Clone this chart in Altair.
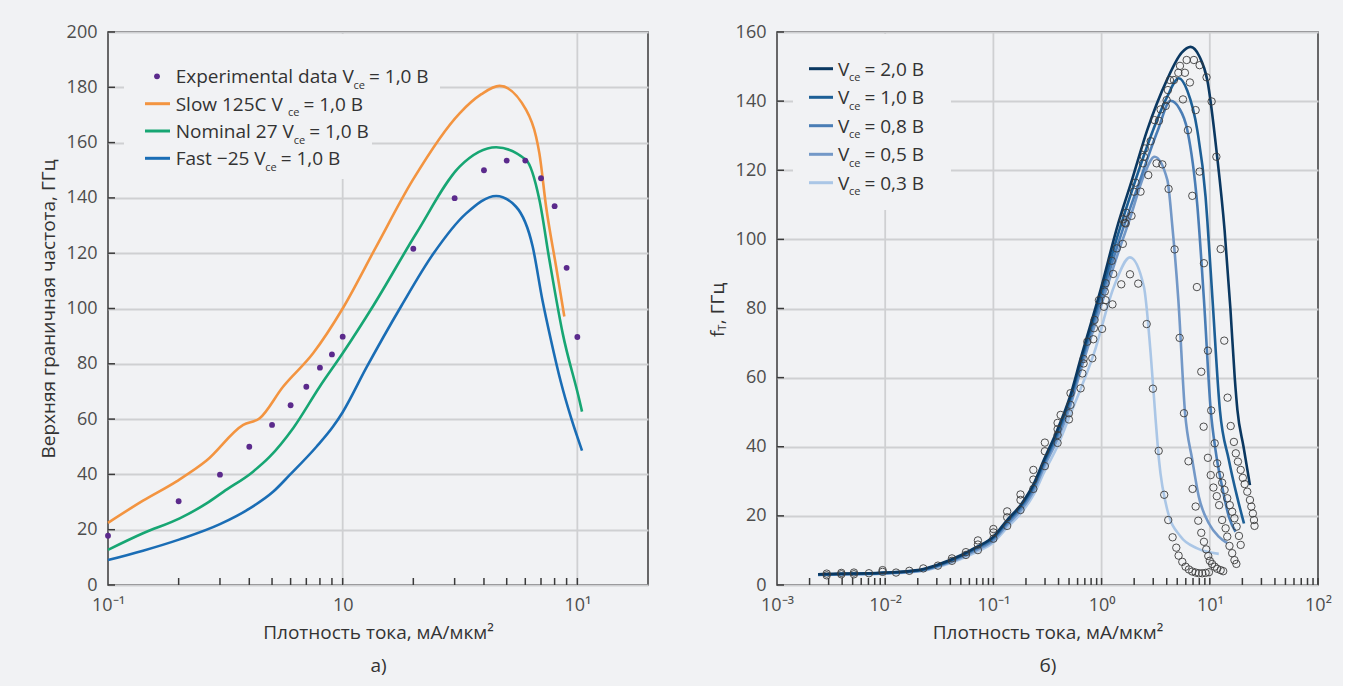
import altair as alt
import pandas as pd

FONT = "Open Sans"
BG = "#f1f2f4"
GRID = "#cfd0d2"
FRAME = "#3a3a3a"
TXT = "#333333"
LBL = "#4d4d4d"

# ---------------- panel a) data ----------------
a_exp_x = [0.1, 0.2, 0.3, 0.4, 0.5, 0.6, 0.7, 0.8, 0.9, 1.0, 2, 3, 4, 5, 6, 7, 8, 9, 10]
a_exp_y = [17.8, 30.3, 39.9, 50.0, 57.9, 65.0, 71.7, 78.6, 83.4, 89.8, 121.6, 139.9, 150.0,
           153.5, 153.5, 147.1, 137.0, 114.7, 89.7]

slow_x = [0.1, 0.141, 0.196, 0.263, 0.377, 0.443, 0.557, 0.748, 1.0, 1.39, 1.99, 3.15, 3.9,
          4.66, 6.05, 6.67, 6.89, 7.36, 8.12, 8.8]
slow_y = [22.5, 30.5, 37.5, 45.0, 57.9, 60.3, 71.7, 83.8, 100.0, 122.4, 146.5, 170.6, 177.5,
          180.5, 171.8, 162.1, 156.1, 136.8, 115.1, 97.1]

nom_x = [0.1, 0.141, 0.202, 0.263, 0.31, 0.415, 0.489, 0.615, 0.798, 1.0, 1.35, 2.06, 3.15,
         4.51, 6.05, 6.89, 7.6, 8.66, 10.2, 10.47]
nom_y = [12.7, 18.7, 24.1, 29.5, 33.7, 41.0, 46.4, 56.7, 71.7, 83.8, 101.0, 127.2, 151.3,
         158.3, 153.7, 139.3, 117.6, 91.0, 66.9, 62.7]

fast_x = [0.1, 0.141, 0.202, 0.3, 0.402, 0.505, 0.595, 0.773, 0.91, 1.0, 1.26, 1.78, 2.42,
          3.36, 4.51, 5.48, 6.45, 7.1, 7.7, 8.5, 9.4, 10.47]
fast_y = [9.0, 12.4, 16.5, 22.0, 27.7, 33.7, 39.8, 50.0, 57.3, 62.5, 78.5, 101.0, 119.5,
          134.4, 140.7, 136.8, 122.4, 103.0, 89.0, 73.5, 60.5, 48.6]

a_series = ["Slow 125C", "Nominal 27", "Fast -25"]
a_colors = ["#f39440", "#17a673", "#1a6db5"]
a_points_color = "#5b2a8c"

# ---------------- panel б) data ----------------
common_x = [0.0024, 0.004, 0.007, 0.01, 0.02, 0.03, 0.05, 0.07, 0.1, 0.134, 0.178, 0.237,
            0.293, 0.389, 0.516]

v20_x = common_x + [0.64, 0.98, 1.42, 1.9, 2.64, 4.0, 5.5, 6.65, 8.0, 9.48, 11.7, 13.7, 15.5,
                    17.0, 18.0, 20.5, 23.5]
v20_y = [3.1, 3.3, 3.4, 3.6, 4.3, 5.8, 8.6, 11.0, 14.0, 18.8, 23.1, 29.4, 36.2, 44.8, 55.0,
         65.5, 85.5, 104.5, 117.0, 131.6, 146.0, 154.0, 155.7, 153.0, 146.1, 123.9, 102.7, 80.0,
         60.0, 50.6, 40.0, 28.9]

v10_x = common_x + [0.64, 0.98, 1.42, 2.0, 2.94, 4.0, 5.18, 6.2, 7.66, 9.14, 9.48, 10.6, 12.4,
                    15.0, 17.9, 20.7]
v10_y = [3.0, 3.2, 3.3, 3.5, 4.2, 5.6, 8.4, 10.8, 13.7, 18.4, 22.7, 28.9, 35.6, 44.0, 54.3,
         64.5, 84.0, 101.5, 116.0, 131.0, 141.0, 146.6, 143.0, 131.6, 112.3, 105.6, 82.5, 50.6,
         36.2, 25.5, 17.8]

v08_x = common_x + [0.64, 0.98, 1.5, 2.2, 3.31, 4.34, 5.2, 6.2, 7.66, 8.83, 10.2, 11.3, 13.0,
                    15.0, 17.3]
v08_y = [3.0, 3.2, 3.3, 3.5, 4.1, 5.5, 8.2, 10.5, 13.4, 18.0, 22.2, 28.3, 35.0, 43.2, 53.3,
         63.5, 82.5, 101.0, 116.0, 131.6, 140.1, 138.0, 131.6, 110.0, 82.5, 50.6, 39.0, 28.4,
         19.8, 15.4]

v05_x = common_x + [0.64, 0.98, 1.35, 1.85, 2.46, 3.09, 4.05, 4.5, 5.12, 5.9, 6.89, 7.92, 9.82,
                    12.1, 14.5]
v05_y = [2.9, 3.1, 3.2, 3.4, 4.0, 5.3, 7.9, 10.1, 12.9, 17.4, 21.5, 27.4, 34.0, 42.0, 52.0,
         62.0, 80.5, 94.0, 106.5, 118.5, 123.9, 117.2, 104.0, 82.5, 50.0, 36.2, 25.5, 17.8,
         14.0, 12.1]

v03_x = common_x + [0.85, 1.3, 1.83, 2.46, 2.84, 3.16, 3.39, 4.05, 5.37, 7.66, 12.1]
v03_y = [2.9, 3.0, 3.1, 3.3, 3.9, 5.1, 7.5, 9.6, 12.3, 16.6, 20.6, 26.3, 32.5, 40.0, 49.5,
         67.0, 86.3, 94.8, 86.3, 67.0, 47.7, 36.2, 21.7, 14.0, 10.6, 9.0]

b_series = ["2,0", "1,0", "0,8", "0,5", "0,3"]
b_colors = ["#0b3861", "#1d5f96", "#4a7db5", "#7398c7", "#aac6e6"]

b_exp_x = [0.00288, 0.00288, 0.00393, 0.00393, 0.00514, 0.00514, 0.00708, 0.00946, 0.00946,
           0.0126, 0.0167, 0.0225, 0.0307, 0.0414, 0.0414, 0.0557, 0.0557, 0.0719, 0.0719,
           0.0719, 0.1, 0.1, 0.1, 0.134, 0.134, 0.134, 0.178, 0.178, 0.178, 0.234, 0.234, 0.234,
           0.299, 0.299, 0.299, 0.392, 0.392, 0.392, 0.392, 0.499, 0.499, 0.516, 0.516, 0.418,
           0.64, 0.664, 0.682, 0.682, 0.82, 0.738, 0.838, 0.849, 1.01, 0.861, 0.944, 1.05, 1.26,
           1.09, 1.07, 1.09, 1.52, 1.28, 1.83, 2.18, 1.24, 1.38, 1.57, 1.67,
           2.61, 2.98, 4.73, 5.26, 5.77, 7.6, 8.83, 9.61, 8.34, 10.3, 12.6, 13.6, 14.6,
           1.64, 1.58, 1.69, 1.89, 1.99, 2.06, 2.29, 2.7, 2.41, 2.46, 2.51, 3.22, 3.64, 2.84,
           4.16, 6.89, 8.05, 3.09, 3.39, 3.51, 3.91, 3.99, 5.65, 6.28, 7.4, 10.4, 11.5, 4.1,
           4.28, 4.66, 5.12, 5.89, 6.55, 5.3, 6.11, 7.13, 8.05, 9.33,
           3.37, 3.79, 4.13, 4.53, 4.9, 5.15, 5.57, 5.97, 6.41, 6.89, 7.4, 7.92, 8.51, 9.14, 9.82,
           6.35, 6.93, 7.4, 7.82, 8.34, 8.83, 9.27, 9.68, 10.0, 10.5, 11.1, 11.7, 12.6, 13.3,
           8.77, 9.61, 10.2, 10.8, 11.6, 12.2, 13.0, 14.0, 14.5, 15.2, 16.1, 16.9, 17.6,
           11.1, 11.7, 12.4, 13.0, 13.7, 14.5, 15.3, 16.1, 16.9, 17.7, 18.6, 19.3,
           15.6, 16.7, 17.4, 18.2, 19.3, 20.2, 21.0, 22.2, 23.5, 24.2, 25.0, 25.6, 25.9]
b_exp_y = [2.8, 3.3, 3.1, 3.5, 3.1, 3.6, 3.4, 3.8, 4.3,
           3.6, 4.1, 4.8, 5.6, 7.0, 7.7, 8.7, 9.5, 10.1, 11.7,
           12.9, 13.4, 15.2, 16.2, 17.1, 19.6, 21.3, 21.7, 24.6, 26.2, 27.8, 30.5, 33.3,
           34.4, 38.7, 41.2, 41.1, 43.4, 45.1, 46.9, 47.9, 49.7, 52.1, 55.5, 49.2,
           56.9, 61.2, 64.1, 65.4, 65.6, 70.4, 71.1, 74.3, 74.1, 76.7, 82.4, 80.5, 81.2,
           82.4, 84.9, 87.3, 87.0, 90.0, 89.9, 87.2, 93.8, 97.4, 98.7, 104.6,
           75.5, 56.8, 97.1, 71.5, 49.7, 86.2, 93.1, 67.8, 61.7, 50.5, 97.2, 70.7, 54.2,
           104.8, 105.8, 107.7, 106.8, 113.8, 116.4, 113.8, 118.6, 122.0, 123.9, 126.3, 122.0,
           121.7, 128.4, 114.6, 112.6, 119.6, 134.5, 134.3, 137.6, 138.6, 140.3, 140.5, 131.6,
           137.4, 139.9, 123.9, 143.2, 146.1, 146.1, 148.2, 148.2, 145.4, 150.2, 151.9, 151.9,
           150.4, 146.9,
           38.8, 26.1, 18.8, 13.8, 10.8, 8.5, 6.7, 5.3, 4.5, 3.9, 3.6, 3.4, 3.4, 3.5, 3.7,
           35.8, 27.8, 22.7, 18.6, 15.1, 12.5, 10.3, 8.4, 7.0, 6.1, 5.3, 4.7, 4.3, 4.0,
           45.8, 36.8, 31.8, 28.2, 25.7, 23.1, 18.8, 16.4, 14.0, 11.3, 9.2, 7.2, 6.1,
           41.0, 35.2, 31.8, 29.6, 27.5, 25.1, 23.1, 21.2, 19.3, 16.9, 14.2, 11.6,
           46.0, 41.4, 38.1, 35.7, 33.3, 31.0, 29.2, 27.0, 24.6, 22.7, 20.7, 18.8, 17.1]

# tick positions
a_ticks_x = [0.2, 0.3, 0.4, 0.5, 0.6, 0.7, 0.8, 0.9, 1, 2, 3, 4, 5, 6, 7, 8, 9, 10]
b_ticks_x = [m * 10.0 ** e for e in range(-3, 2) for m in range(2, 11)]
a_ticks_y = list(range(0, 201, 20))
b_ticks_y = list(range(0, 161, 20))

W_A, W_B, H = 540, 541, 553
ONE = pd.DataFrame({"k": [0]})

CW = {' ': 0.26, 'E': 0.55, 'x': 0.52, 'p': 0.61, 'e': 0.56, 'r': 0.41, 'i': 0.26, 'm': 0.93,
      'n': 0.61, 't': 0.35, 'a': 0.56, 'l': 0.26, 'd': 0.61, 'V': 0.58, 'S': 0.54, 'o': 0.60,
      'w': 0.82, 'C': 0.62, 'N': 0.75, 'F': 0.52, 's': 0.47, 'c': 0.48, ',': 0.25, '=': 0.57,
      'B': 0.63, 'f': 0.33, 'T': 0.55}


def tw(s, size):
    return sum(CW.get(c, 0.57) for c in s) * size


def text_mark(s, x, y, size=19, angle=None, baseline="alphabetic"):
    kw = dict(text=s, font=FONT, fontSize=size, color=TXT, align="left", baseline=baseline)
    if angle is not None:
        kw["angle"] = angle
    return alt.Chart(ONE).mark_text(**kw).encode(x=alt.value(x), y=alt.value(y))


def rect_mark(x1, x2, y1, y2):
    return alt.Chart(ONE).mark_rect(color=BG).encode(
        x=alt.value(x1), x2=alt.value(x2), y=alt.value(y1), y2=alt.value(y2))


def legend_text(main, x0, yb, rest):
    x_sub = x0 + tw(main, 19)
    x_rest = x_sub + tw("ce", 11) + 4
    return [text_mark(main, x0, yb), text_mark("ce", x_sub, yb + 5.7, size=11),
            text_mark(rest, x_rest, yb)]


# ---------------- panel a) chart ----------------
sxa = alt.Scale(type="log", domain=[0.1, 20], nice=False)
sya = alt.Scale(domain=[0, 200], nice=False)
axa_x = alt.Axis(values=[0.1, 1, 10],
                 labelExpr="datum.value < 0.5 ? '10⁻¹' : (datum.value < 5 ? '10' : '10¹')",
                 grid=False, ticks=False, domain=False, labelPadding=11, labelFlush=False,
                 labelOverlap=False, title=["Плотность тока, мА/мкм²", "а)"], titlePadding=9,
                 titleLineHeight=33)
axa_y = alt.Axis(values=a_ticks_y, grid=True, gridColor=GRID, gridWidth=1.8, ticks=False,
                 domain=False, labelPadding=11, title="Верхняя граничная частота, ГГц",
                 titlePadding=8)


def XA(f):
    return alt.X(f, type="quantitative", scale=sxa, axis=axa_x)


def YA(f):
    return alt.Y(f, type="quantitative", scale=sya, axis=axa_y)


rows = []
for name, xs, ys in zip(a_series, [slow_x, nom_x, fast_x], [slow_y, nom_y, fast_y]):
    for xv, yv in zip(xs, ys):
        rows.append({"x": xv, "y": yv, "s": name})
df_a = pd.DataFrame(rows)

a_layers = [
    alt.Chart(pd.DataFrame({"x": [1, 10]})).mark_rule(color=GRID, strokeWidth=1.8).encode(x=XA("x")),
    rect_mark(16, 332, 2, 60),
    rect_mark(16, 264, 60, 147),
    alt.Chart(df_a).mark_line(strokeWidth=2.6, interpolate="monotone").encode(
        x=XA("x"), y=YA("y"),
        color=alt.Color("s:N", scale=alt.Scale(domain=a_series, range=a_colors), legend=None)),
    alt.Chart(pd.DataFrame({"x": a_exp_x, "y": a_exp_y})).mark_point(
        filled=True, shape="circle", size=34, color=a_points_color, opacity=1).encode(
        x=XA("x"), y=YA("y")),
    alt.Chart(pd.DataFrame({"t": a_ticks_x})).mark_rule(color=FRAME, strokeWidth=1.5).encode(
        x=XA("t"), y=alt.value(H), y2=alt.value(H - 7)),
    alt.Chart(pd.DataFrame({"t": a_ticks_y})).mark_rule(color=FRAME, strokeWidth=1.5).encode(
        y=YA("t"), x=alt.value(0), x2=alt.value(7)),
]
# legend a
a_rows_c = [44.3, 71.7, 99.0, 126.3]
a_mains = ["Experimental data V", "Slow 125C  V", "Nominal 27 V", "Fast −25 V"]
a_layers.append(alt.Chart(ONE).mark_point(filled=True, shape="circle", size=34,
                                          color=a_points_color, opacity=1).encode(
    x=alt.value(49), y=alt.value(a_rows_c[0])))
for i, col in enumerate(a_colors):
    a_layers.append(alt.Chart(ONE).mark_rule(color=col, strokeWidth=3).encode(
        x=alt.value(37), x2=alt.value(62), y=alt.value(a_rows_c[i + 1])))
for i, m in enumerate(a_mains):
    a_layers += legend_text(m, 67.7, a_rows_c[i] + 6.8, "= 1,0 B")

left = alt.layer(*a_layers).properties(width=W_A, height=H)

# ---------------- panel б) chart ----------------
sxb = alt.Scale(type="log", domain=[0.001, 100], nice=False)
syb = alt.Scale(domain=[0, 160], nice=False)
lab_b = ("round(log(datum.value)/LN10) == -3 ? '10⁻³' : round(log(datum.value)/LN10) == -2 ? '10⁻²' : "
         "round(log(datum.value)/LN10) == -1 ? '10⁻¹' : round(log(datum.value)/LN10) == 0 ? '10⁰' : "
         "round(log(datum.value)/LN10) == 1 ? '10¹' : '10²'")
axb_x = alt.Axis(values=[0.001, 0.01, 0.1, 1, 10, 100], labelExpr=lab_b, grid=False, ticks=False,
                 domain=False, labelPadding=11, labelFlush=False, labelOverlap=False,
                 title=["Плотность тока, мА/мкм²", "б)"], titlePadding=9, titleLineHeight=33)
axb_y = alt.Axis(values=b_ticks_y, grid=True, gridColor=GRID, gridWidth=1.8, ticks=False,
                 domain=False, labelPadding=11, title=None)


def XB(f):
    return alt.X(f, type="quantitative", scale=sxb, axis=axb_x)


def YB(f):
    return alt.Y(f, type="quantitative", scale=syb, axis=axb_y)


rows = []
curves = list(zip(b_series, [v20_x, v10_x, v08_x, v05_x, v03_x], [v20_y, v10_y, v08_y, v05_y, v03_y]))
for name, xs, ys in curves:
    for xv, yv in zip(xs, ys):
        rows.append({"x": xv, "y": yv, "s": name})
df_b = pd.DataFrame(rows)

b_layers = [
    alt.Chart(pd.DataFrame({"x": [0.01, 0.1, 1, 10]})).mark_rule(color=GRID, strokeWidth=1.8).encode(x=XB("x")),
    rect_mark(16, 174, 2, 178),
]
for name, col in reversed(list(zip(b_series, b_colors))):
    b_layers.append(alt.Chart(df_b[df_b.s == name]).mark_line(
        strokeWidth=2.6, interpolate="monotone", color=col).encode(x=XB("x"), y=YB("y")))
b_layers += [
    alt.Chart(pd.DataFrame({"x": b_exp_x, "y": b_exp_y})).mark_point(
        filled=False, shape="circle", size=55, color="#3b3b3b", strokeWidth=0.9, opacity=1).encode(
        x=XB("x"), y=YB("y")),
    alt.Chart(pd.DataFrame({"t": b_ticks_x})).mark_rule(color=FRAME, strokeWidth=1.5).encode(
        x=XB("t"), y=alt.value(H), y2=alt.value(H - 7)),
    alt.Chart(pd.DataFrame({"t": b_ticks_y})).mark_rule(color=FRAME, strokeWidth=1.5).encode(
        y=YB("t"), x=alt.value(0), x2=alt.value(7)),
]
b_rows_c = [36.7, 65.3, 93.7, 122.3, 150.7]
for i, (name, col) in enumerate(zip(b_series, b_colors)):
    b_layers.append(alt.Chart(ONE).mark_rule(color=col, strokeWidth=3).encode(
        x=alt.value(32), x2=alt.value(56), y=alt.value(b_rows_c[i])))
    b_layers += legend_text("V", 61, b_rows_c[i] + 6.8, "= " + name + " B")
# rotated y title f_T, ГГц
b_layers += [
    text_mark("f", -59, 305, size=19, angle=270, baseline="middle"),
    text_mark("T", -54, 305 - tw("f", 19), size=11, angle=270, baseline="middle"),
    text_mark(", ГГц", -59, 305 - tw("f", 19) - tw("T", 11) - 0.5, size=19, angle=270,
              baseline="middle"),
]

right = alt.layer(*b_layers).properties(width=W_B, height=H)

chart = alt.hconcat(left, right, spacing=129, bounds="flush").properties(
    padding={"left": 38, "top": 22, "right": 10, "bottom": 10},
    background=BG,
).configure_view(
    stroke=FRAME, strokeWidth=1.5, fill=BG
).configure_axis(
    labelFont=FONT, labelFontSize=18, labelColor=LBL,
    titleFont=FONT, titleFontSize=19, titleColor=TXT, titleFontWeight="normal"
)

chart.save("out.html", embed_options={"renderer": "svg", "actions": False})
